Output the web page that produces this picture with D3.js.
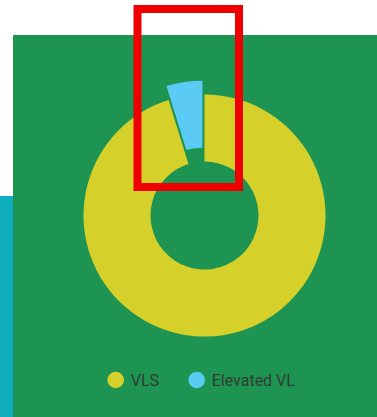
<!DOCTYPE html>
<html>
<head>
<meta charset="utf-8">
<script src="https://cdn.jsdelivr.net/npm/d3@7"></script>
<style>
  html, body { margin: 0; padding: 0; background: #fff; }
  svg { display: block; }
</style>
</head>
<body>
<div id="chartDiv"></div>
<script>
// chart data
var categories = ["VLS", "Elevated VL"];
var values = [95.2, 4.8];
var colors = ["#D6D12A", "#5BCAF5"];
var explode = [0, 14];

var width = 377, height = 417;

var svg = d3.select("#chartDiv").append("svg")
	.attr("width", width)
	.attr("height", height);

// side strip and panel background
svg.append("rect")
	.attr("x", 0).attr("y", 196)
	.attr("width", 13).attr("height", height - 196)
	.attr("fill", "#0FADBD");

svg.append("rect")
	.attr("x", 13).attr("y", 35)
	.attr("width", width - 13).attr("height", height - 35)
	.attr("fill", "#1E9452");

var cx = 204.5, cy = 215.5;

var pie = d3.pie().sort(null).value(function(d) { return d; });
var arc = d3.arc().innerRadius(54).outerRadius(121);

var g = svg.append("g")
	.attr("transform", "translate(" + cx + "," + cy + ")");

g.selectAll(".slice")
	.data(pie(values))
	.enter().append("path")
	.attr("class", "slice")
	.attr("fill", function(d, i) { return colors[i]; })
	.attr("d", arc)
	.attr("transform", function(d, i) {
		var mid = (d.startAngle + d.endAngle) / 2;
		var off = explode[i];
		return "translate(" + (Math.sin(mid) * off) + "," + (-Math.cos(mid) * off) + ")";
	});

// legend
var legendX = [115.7, 196.7];
var legend = svg.selectAll(".legend")
	.data(categories)
	.enter().append("g")
	.attr("class", "legend")
	.attr("transform", function(d, i) { return "translate(" + legendX[i] + ",380)"; });

legend.append("circle")
	.attr("r", 8.3)
	.attr("fill", function(d, i) { return colors[i]; });

legend.append("text")
	.attr("x", 15)
	.attr("dy", "0.35em")
	.attr("font-family", "Roboto, sans-serif")
	.attr("font-size", 16)
	.attr("fill", "#2f3d33")
	.text(function(d) { return d; });

// highlight box
svg.append("rect")
	.attr("x", 137.5).attr("y", 9)
	.attr("width", 101.5).attr("height", 178)
	.attr("fill", "none")
	.attr("stroke", "#EE0000")
	.attr("stroke-width", 8);
</script>
</body>
</html>
